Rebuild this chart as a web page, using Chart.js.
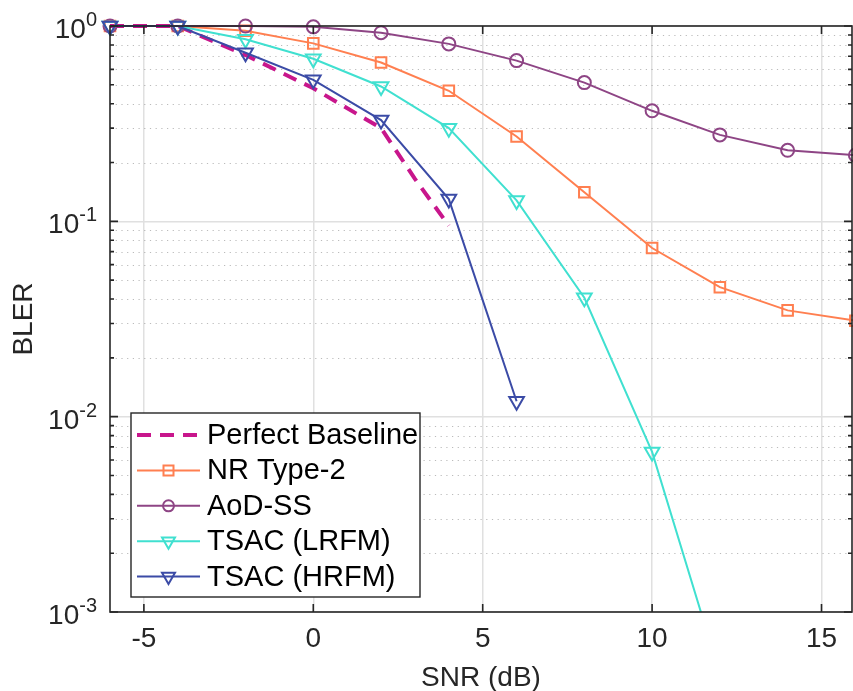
<!DOCTYPE html>
<html>
<head>
<meta charset="utf-8">
<script src="https://cdn.jsdelivr.net/npm/chart.js@4.4.0/dist/chart.umd.min.js"></script>
<style>
    html, body { margin: 0; padding: 0; background: #fff; overflow: hidden; }
    #wrap { width: 853px; height: 691px; position: relative; }
</style>
</head>
<body>
<div id="wrap"><canvas id="bler-chart"></canvas></div>
<script>
    // Data
    const snr = [-6, -4, -2, 0, 2, 4, 6, 8, 10, 12, 14, 16];
    const snrBaseline = [-6, -4, -2, 0, 2, 3, 4];
    const blerBaseline = [1.0, 1.0, 0.71, 0.48, 0.30, 0.165, 0.095];
    const blerNrType2 = [1.0, 1.0, 0.945, 0.815, 0.65, 0.466, 0.272, 0.141, 0.073, 0.046, 0.035, 0.031];
    const blerAodSs = [1.0, 1.0, 1.0, 0.99, 0.924, 0.81, 0.665, 0.513, 0.368, 0.277, 0.231, 0.218];
    const blerLrfm = [1.0, 1.0, 0.855, 0.68, 0.49, 0.30, 0.128, 0.0406, 0.0066, 0.00048];
    const blerHrfm = [1.0, 1.0, 0.73, 0.53, 0.33, 0.13, 0.012];
    const xTicks = [-5, 0, 5, 10, 15];
    const yTicks = [1e-3, 1e-2, 1e-1, 1];
    const yTickExp = ['-3', '-2', '-1', '0'];

    const FONT = '"Liberation Sans", Arial, Helvetica, sans-serif';
    const AXIS_COLOR = '#262626';

    function pts(xs, ys) {
        return ys.map(function (v, i) { return {x: xs[i], y: v}; });
    }

    // Axes box, inward ticks, minor grid, 10^n labels and legend (MATLAB look)
    const matlabAxes = {
        id: 'matlabAxes',
        beforeDatasetsDraw(chart) {
            const ctx = chart.ctx, a = chart.chartArea, y = chart.scales.y;
            ctx.save();
            ctx.strokeStyle = 'rgba(120,120,120,0.5)';
            ctx.lineWidth = 1.2;
            ctx.setLineDash([1.2, 4.5]);
            yTicks.slice(0, -1).forEach(function (d) {
                for (let m = 2; m <= 9; m++) {
                    const py = Math.round(y.getPixelForValue(d * m)) + 0.5;
                    ctx.beginPath();
                    ctx.moveTo(a.left, py);
                    ctx.lineTo(a.right, py);
                    ctx.stroke();
                }
            });
            ctx.restore();
        },
        afterDatasetsDraw(chart) {
            const ctx = chart.ctx, a = chart.chartArea;
            const x = chart.scales.x, y = chart.scales.y;
            ctx.save();
            ctx.strokeStyle = AXIS_COLOR;
            ctx.lineWidth = 1.6;
            ctx.strokeRect(a.left, a.top, a.right - a.left, a.bottom - a.top);

            ctx.beginPath();
            xTicks.forEach(function (v) {
                const px = x.getPixelForValue(v);
                ctx.moveTo(px, a.bottom); ctx.lineTo(px, a.bottom - 8);
                ctx.moveTo(px, a.top); ctx.lineTo(px, a.top + 8);
            });
            yTicks.forEach(function (d, i) {
                const py = y.getPixelForValue(d);
                ctx.moveTo(a.left, py); ctx.lineTo(a.left + 8, py);
                ctx.moveTo(a.right, py); ctx.lineTo(a.right - 8, py);
                if (i === yTicks.length - 1) return;
                for (let m = 2; m <= 9; m++) {
                    const pm = y.getPixelForValue(d * m);
                    ctx.moveTo(a.left, pm); ctx.lineTo(a.left + 4, pm);
                    ctx.moveTo(a.right, pm); ctx.lineTo(a.right - 4, pm);
                }
            });
            ctx.stroke();

            // y tick labels as 10 with a superscript
            ctx.fillStyle = AXIS_COLOR;
            ctx.textBaseline = 'alphabetic';
            yTicks.forEach(function (v, i) {
                const py = y.getPixelForValue(v);
                ctx.font = '20px ' + FONT;
                const sw = ctx.measureText(yTickExp[i]).width;
                ctx.textAlign = 'left';
                ctx.fillText(yTickExp[i], 97 - sw, py);
                ctx.font = '28px ' + FONT;
                ctx.textAlign = 'right';
                ctx.fillText('10', 97 - sw, py + 12);
            });
            ctx.restore();
        },
        afterDraw(chart) {
            const ctx = chart.ctx;
            const box = {x: 131, y: 413, w: 289, h: 184};
            ctx.save();
            ctx.fillStyle = '#ffffff';
            ctx.fillRect(box.x, box.y, box.w, box.h);
            ctx.strokeStyle = '#262626';
            ctx.lineWidth = 1.4;
            ctx.strokeRect(box.x, box.y, box.w, box.h);

            chart.data.datasets.forEach(function (ds, i) {
                const cy = 435 + i * 35.4;
                ctx.strokeStyle = ds.borderColor;
                ctx.lineWidth = ds.borderWidth;
                ctx.setLineDash(ds.borderDash || []);
                ctx.beginPath();
                ctx.moveTo(137, cy);
                ctx.lineTo(200, cy);
                ctx.stroke();
                ctx.setLineDash([]);

                if (ds.pointRadius > 0) {
                    ctx.lineWidth = ds.pointBorderWidth;
                    ctx.beginPath();
                    const cx = 168.5;
                    if (ds.pointStyle === 'rect') {
                        ctx.rect(cx - 5, cy - 5, 10, 10);
                    } else if (ds.pointStyle === 'circle') {
                        ctx.arc(cx, cy, 5.5, 0, Math.PI * 2);
                    } else {
                        const r = 7.5;
                        ctx.moveTo(cx - r * 0.866, cy - r * 0.5);
                        ctx.lineTo(cx + r * 0.866, cy - r * 0.5);
                        ctx.lineTo(cx, cy + r);
                        ctx.closePath();
                    }
                    ctx.stroke();
                }

                ctx.fillStyle = '#000000';
                ctx.font = '29px ' + FONT;
                ctx.textAlign = 'left';
                ctx.textBaseline = 'middle';
                ctx.fillText(ds.label, 207, cy + 1);
            });
            ctx.restore();
        }
    };

    const lineClip = {left: 12, top: 12, right: 12, bottom: 0};

    const ctx = document.getElementById('bler-chart').getContext('2d');
    const blerChart = new Chart(ctx, {
        type: 'line',
        data: {
            datasets: [{
                label: 'Perfect Baseline',
                data: pts(snrBaseline, blerBaseline),
                borderColor: '#C8168C',
                borderWidth: 4,
                borderDash: [14, 9],
                pointRadius: 0,
                order: 4
            }, {
                label: 'NR Type-2',
                data: pts(snr, blerNrType2),
                borderColor: '#FF7F50',
                borderWidth: 2,
                pointStyle: 'rect',
                pointRadius: 7.5,
                pointBorderWidth: 2,
                order: 3
            }, {
                label: 'AoD-SS',
                data: pts(snr, blerAodSs),
                borderColor: '#8E4585',
                borderWidth: 2,
                pointStyle: 'circle',
                pointRadius: 6.5,
                pointBorderWidth: 2,
                order: 2
            }, {
                label: 'TSAC (LRFM)',
                data: pts(snr, blerLrfm),
                borderColor: '#40E0D0',
                borderWidth: 2,
                pointStyle: 'triangle',
                pointRotation: 180,
                pointRadius: 8.5,
                pointBorderWidth: 2,
                order: 1
            }, {
                label: 'TSAC (HRFM)',
                data: pts(snr, blerHrfm),
                borderColor: '#3B4BA6',
                borderWidth: 2,
                pointStyle: 'triangle',
                pointRotation: 180,
                pointRadius: 8.5,
                pointBorderWidth: 2,
                order: 0
            }].map(function (ds) {
                ds.backgroundColor = 'rgba(0,0,0,0)';
                ds.pointBorderColor = ds.borderColor;
                ds.pointBackgroundColor = 'rgba(0,0,0,0)';
                ds.tension = 0;
                ds.clip = lineClip;
                return ds;
            })
        },
        options: {
            responsive: true,
            maintainAspectRatio: false,
            animation: false,
            devicePixelRatio: 1,
            layout: {
                autoPadding: false,
                padding: {top: 26, right: 1, left: 0, bottom: 0}
            },
            plugins: {
                legend: {display: false},
                tooltip: {enabled: false}
            },
            scales: {
                x: {
                    type: 'linear',
                    min: -6,
                    max: 15.9,
                    afterBuildTicks: function (s) {
                        s.ticks = xTicks.map(function (v) { return {value: v}; });
                    },
                    afterFit: function (s) {
                        s.height = 79;
                        s.paddingLeft = 0;
                        s.paddingRight = 0;
                    },
                    grid: {color: '#e0e0e0', lineWidth: 1.5, drawTicks: false},
                    border: {display: false},
                    ticks: {
                        color: AXIS_COLOR,
                        font: {family: FONT, size: 28},
                        padding: 10,
                        maxRotation: 0
                    },
                    title: {
                        display: true,
                        text: 'SNR (dB)',
                        color: AXIS_COLOR,
                        font: {family: FONT, size: 28},
                        padding: {top: 0, bottom: -4}
                    }
                },
                y: {
                    type: 'logarithmic',
                    min: 1e-3,
                    max: 1,
                    afterBuildTicks: function (s) {
                        s.ticks = yTicks.map(function (v) { return {value: v}; });
                    },
                    afterFit: function (s) {
                        s.width = 110;
                        s.paddingTop = 0;
                        s.paddingBottom = 0;
                    },
                    grid: {color: '#e0e0e0', lineWidth: 1.5, drawTicks: false},
                    border: {display: false},
                    ticks: {display: false},
                    title: {
                        display: true,
                        text: 'BLER',
                        color: AXIS_COLOR,
                        font: {family: FONT, size: 28},
                        padding: {top: 7, bottom: 0}
                    }
                }
            }
        },
        plugins: [matlabAxes]
    });
</script>
</body>
</html>
